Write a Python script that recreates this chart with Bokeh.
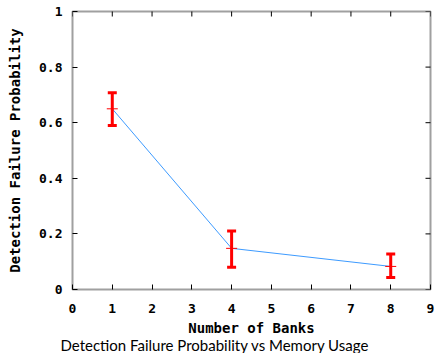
import math
from bokeh.plotting import figure
from bokeh.models import Range1d, FixedTicker, Title
from bokeh.embed import file_html
from bokeh.resources import INLINE

# data
banks = [1, 4, 8]
prob = [0.65, 0.148, 0.083]
err_lower = [0.59, 0.08, 0.043]
err_upper = [0.708, 0.21, 0.128]

x_ticks = [0, 1, 2, 3, 4, 5, 6, 7, 8, 9]
y_ticks = [0, 0.2, 0.4, 0.6, 0.8, 1]
y_tick_labels = ["0", "0.2", "0.4", "0.6", "0.8", "1"]

MONO = "DejaVu Sans Mono"
FS = "13px"
LFS = "14px"

p = figure(width=439, height=353, output_backend="svg", toolbar_location=None,
           x_range=Range1d(0, 9), y_range=Range1d(0, 1),
           x_axis_label="Number of Banks", y_axis_label="Detection Failure Probability",
           min_border_left=72, min_border_top=11, min_border_right=9, min_border_bottom=0)
p.grid.visible = False
p.outline_line_color = "#a0a0a0"
p.outline_line_width = 2

for ax in [p.xaxis[0], p.yaxis[0]]:
    ax.axis_line_color = None
    ax.major_tick_in = 5
    ax.major_tick_out = 0
    ax.minor_tick_line_color = None
    ax.major_tick_line_color = "black"
    ax.major_label_text_font = MONO
    ax.major_label_text_font_style = "bold"
    ax.major_label_text_font_size = FS
    ax.major_label_text_color = "black"
    ax.axis_label_text_font = MONO
    ax.axis_label_text_font_style = "bold"
    ax.axis_label_text_font_size = LFS
    ax.axis_label_text_color = "black"

p.xaxis[0].ticker = FixedTicker(ticks=x_ticks)
p.yaxis[0].ticker = FixedTicker(ticks=y_ticks)
p.yaxis[0].major_label_overrides = {t: l for t, l in zip(y_ticks, y_tick_labels)}
p.xaxis[0].major_label_standoff = 14
p.xaxis[0].axis_label_standoff = 4
p.yaxis[0].major_label_standoff = 10
p.yaxis[0].axis_label_standoff = 13

# mirrored inward ticks on top and right edges (half of each dash is clipped by the frame)
p.scatter(x_ticks, [1] * len(x_ticks), marker="dash", angle=math.pi / 2, size=10,
          line_color="black", line_width=1)
p.scatter([9] * len(y_ticks), y_ticks, marker="dash", size=10,
          line_color="black", line_width=1)

# line
p.line(banks, prob, line_color="#3d9bff", line_width=1)

# error bars
p.segment(x0=banks, y0=err_lower, x1=banks, y1=err_upper, line_color="red", line_width=3)
p.scatter(banks, err_lower, marker="dash", size=9, line_color="red", line_width=3)
p.scatter(banks, err_upper, marker="dash", size=9, line_color="red", line_width=3)
p.scatter(banks, prob, marker="dash", size=11, line_color="red", line_width=1)

title = Title(text="Detection Failure Probability vs Memory Usage", align="left",
              offset=-12, text_font="Lato", text_font_size="15px",
              text_font_style="normal", text_color="black", standoff=-5,
              vertical_align="top")
p.add_layout(title, "below")

open("out.html", "w").write(file_html(p, INLINE))
